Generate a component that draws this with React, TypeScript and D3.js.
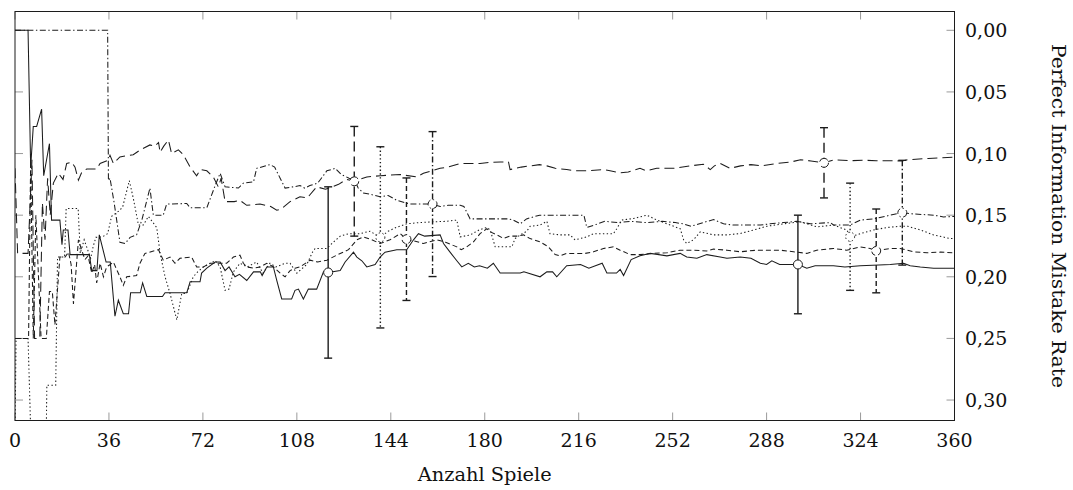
import * as d3 from "d3";

// ── Data: [game, mistake rate] ─────────────────────────────
const solidSeries: [number, number][] = [
  [0, 0], [5, 0], [6, 0.111], [7, 0.078], [8.3, 0.078], [10.2, 0.064], [11, 0.118], [13.2, 0.092],
  [14, 0.154], [17.2, 0.154], [18, 0.174], [18.5, 0.162], [20.3, 0.162], [21.1, 0.182], [28.5, 0.182],
  [29.4, 0.195], [31.4, 0.195], [32.3, 0.166], [34.9, 0.188], [36.5, 0.188], [38.3, 0.232], [39.6, 0.219],
  [41.5, 0.23], [43.5, 0.23], [44.3, 0.213], [48, 0.213], [48.9, 0.205], [50.5, 0.216], [56.5, 0.216],
  [57.5, 0.213], [65.8, 0.213], [67.1, 0.204], [70.9, 0.204], [71.5, 0.197], [73.5, 0.193], [76.7, 0.188],
  [78.6, 0.188], [80.5, 0.195], [82, 0.192], [84.3, 0.2], [86, 0.198], [88.8, 0.203], [91.4, 0.196],
  [94, 0.196], [94.7, 0.199], [96.5, 0.192], [99, 0.192], [100.3, 0.203], [102.2, 0.218], [106, 0.218],
  [107.3, 0.211], [108.6, 0.21], [110.5, 0.218], [112.4, 0.21], [115.6, 0.21], [118.2, 0.196], [120, 0.1965],
  [124.6, 0.195], [126.5, 0.188], [129.7, 0.18], [131, 0.184], [132.9, 0.187], [134.8, 0.192], [138, 0.19],
  [139.9, 0.184], [141.8, 0.18], [146.3, 0.178], [150.1, 0.178], [152.7, 0.17], [154.6, 0.165], [157, 0.167],
  [162.9, 0.166], [164.2, 0.173], [166.7, 0.18], [169.3, 0.187], [171.2, 0.192], [173.7, 0.189], [176, 0.192],
  [178, 0.191], [181, 0.193], [183.3, 0.189], [185.9, 0.197], [193.6, 0.197], [195, 0.196], [201.2, 0.2],
  [203.8, 0.196], [206, 0.196], [207.6, 0.2], [211.4, 0.191], [216.7, 0.19], [219.9, 0.193], [225, 0.189],
  [226.8, 0.197], [230.5, 0.197], [231.9, 0.194], [233.2, 0.199], [236.1, 0.186], [239.5, 0.183],
  [243.4, 0.181], [249.8, 0.183], [254.9, 0.181], [257.4, 0.184], [261.3, 0.185], [265.1, 0.182],
  [270.2, 0.184], [272.8, 0.185], [277.9, 0.184], [282, 0.185], [285.6, 0.189], [288, 0.19], [290, 0.187],
  [293, 0.19], [300, 0.19], [303.4, 0.193], [306.6, 0.191], [313.6, 0.191], [318, 0.192], [323.9, 0.191],
  [331, 0.1905], [335.4, 0.19], [340.5, 0.189], [343, 0.191], [346.9, 0.192], [352, 0.193], [360, 0.193],
];

const longDashSeries: [number, number][] = [
  [0, 0.112], [1, 0.181], [5, 0.181], [6.5, 0.105], [7.5, 0.25], [9.5, 0.25], [10.5, 0.14], [11.5, 0.17],
  [12.5, 0.12], [13.5, 0.15], [14.7, 0.124], [16.6, 0.116], [18.4, 0.121], [19.8, 0.108], [21.7, 0.107],
  [23, 0.111], [24.3, 0.1216], [25.6, 0.115], [27.5, 0.1125], [31.3, 0.1125], [32.6, 0.108], [35.8, 0.1054],
  [36.4, 0.1014], [37.7, 0.108], [40.2, 0.1027], [45.3, 0.101], [48, 0.097], [51.7, 0.093], [53.5, 0.094],
  [55, 0.091], [55.6, 0.099], [57, 0.094], [58.8, 0.089], [60, 0.1], [62.6, 0.097], [64.5, 0.101],
  [67.1, 0.111], [69.6, 0.118], [71, 0.113], [73.5, 0.114], [76, 0.119], [77.9, 0.127], [79, 0.12],
  [80.5, 0.139], [84, 0.139], [86.2, 0.138], [88.8, 0.142], [93.9, 0.141], [98, 0.143], [100.3, 0.146],
  [102, 0.145], [105.4, 0.139], [109.2, 0.135], [112, 0.136], [115.6, 0.127], [119, 0.129], [124, 0.125],
  [127, 0.121], [130, 0.1225], [134.8, 0.119], [140, 0.118], [147.6, 0.117], [153.9, 0.119], [156.5, 0.116],
  [162.9, 0.112], [166, 0.111], [170.6, 0.108], [178.2, 0.108], [183, 0.107], [185.9, 0.1068], [189.1, 0.1068],
  [189.7, 0.113], [194, 0.111], [197.4, 0.11], [201, 0.109], [203.8, 0.11], [207, 0.112], [211.4, 0.113],
  [215, 0.114], [219.1, 0.114], [225.5, 0.113], [228, 0.114], [231.9, 0.1157], [235, 0.115], [239.5, 0.112],
  [242, 0.114], [245.9, 0.112], [252.3, 0.112], [258.7, 0.11], [263.8, 0.1087], [266.4, 0.113], [268, 0.11],
  [270.2, 0.108], [274, 0.112], [278, 0.11], [282, 0.109], [286, 0.11], [292, 0.108], [297, 0.107],
  [301, 0.105], [305, 0.106], [310, 0.1075], [314, 0.105], [320, 0.1058], [325, 0.1054], [330, 0.1058],
  [335, 0.1058], [340, 0.106], [342, 0.105], [350, 0.104], [355, 0.1035], [360, 0.103],
];

const dottedSeries: [number, number][] = [
  [0, 0.33], [0.4, 0.25], [5, 0.25], [6.5, 0.36], [11.8, 0.36], [12.2, 0.288], [15.6, 0.288], [16.3, 0.184],
  [19, 0.184], [19.6, 0.1446], [24.2, 0.1446], [25, 0.181], [26.5, 0.17], [27.5, 0.176], [29, 0.185],
  [30, 0.175], [31, 0.168], [33.5, 0.1676], [35.5, 0.165], [37, 0.151], [40.2, 0.146], [41.3, 0.143],
  [43.8, 0.122], [45.3, 0.136], [47.3, 0.158], [49.2, 0.158], [51.1, 0.151], [54.3, 0.16], [55.6, 0.181],
  [57.5, 0.2], [59.4, 0.2135], [62, 0.235], [63.9, 0.2135], [65.8, 0.2135], [68.3, 0.2], [70, 0.196],
  [72.2, 0.192], [76.7, 0.187], [78.6, 0.192], [80.5, 0.211], [82, 0.21], [83.7, 0.196], [86.2, 0.189],
  [89, 0.192], [92.6, 0.188], [95, 0.197], [97.7, 0.189], [100, 0.192], [103.5, 0.189], [105.4, 0.189],
  [108, 0.197], [111.8, 0.19], [114, 0.18], [115, 0.177], [119.5, 0.177], [121.4, 0.173], [124.6, 0.167],
  [128, 0.165], [132.2, 0.165], [136, 0.163], [140, 0.168], [143, 0.163], [146, 0.16], [150.1, 0.157],
  [155, 0.156], [160.4, 0.1554], [165, 0.155], [169.3, 0.154], [170.6, 0.1676], [174.4, 0.166],
  [178.2, 0.1616], [180.8, 0.16], [182.1, 0.162], [184, 0.1757], [190.4, 0.1757], [191.6, 0.169],
  [193.6, 0.166], [196.1, 0.163], [197.4, 0.159], [201.2, 0.158], [203.8, 0.155], [205, 0.165],
  [208.9, 0.166], [212.7, 0.166], [214.6, 0.17], [219.1, 0.1676], [221.7, 0.165], [229.3, 0.165],
  [230.6, 0.161], [232.5, 0.154], [237, 0.1527], [242.1, 0.15], [246, 0.154], [249.8, 0.157], [254.9, 0.161],
  [256.2, 0.17], [257.4, 0.173], [260, 0.17], [262.6, 0.1635], [267.7, 0.166], [272.8, 0.166],
  [277.9, 0.1649], [283, 0.162], [288.1, 0.159], [294.5, 0.157], [300.9, 0.1554], [307.3, 0.1595],
  [313.6, 0.158], [318.7, 0.162], [320.3, 0.1675], [323.9, 0.165], [329, 0.162], [334.1, 0.16],
  [339.2, 0.159], [342, 0.159], [346.9, 0.162], [352, 0.166], [358.4, 0.169], [360, 0.169],
];

const shortDashSeries: [number, number][] = [
  [0, 0.25], [5.2, 0.25], [6, 0.106], [7, 0.25], [8, 0.15], [9, 0.2], [10, 0.25], [12, 0.25], [13.2, 0.212],
  [14.3, 0.212], [15.3, 0.239], [17.2, 0.184], [19.2, 0.184], [20.5, 0.18], [21.5, 0.19], [22.4, 0.222],
  [24.3, 0.17], [25.5, 0.178], [26.8, 0.186], [28, 0.183], [29.4, 0.197], [30.5, 0.19], [31.3, 0.205],
  [32.6, 0.189], [33.9, 0.2], [35.1, 0.192], [36.5, 0.19], [37.7, 0.188], [40.2, 0.2], [41.5, 0.207],
  [42.8, 0.2], [46.6, 0.199], [47.9, 0.189], [49.8, 0.181], [55, 0.178], [56.8, 0.1865], [59.4, 0.184],
  [61.3, 0.189], [63.2, 0.185], [67.7, 0.184], [69.6, 0.192], [72.2, 0.192], [74.7, 0.189], [81.1, 0.189],
  [83.7, 0.184], [86.2, 0.1824], [87.5, 0.189], [88.8, 0.192], [91.4, 0.193], [94, 0.192], [96.5, 0.189],
  [99.1, 0.192], [101.6, 0.197], [103.5, 0.2], [105.4, 0.195], [107.3, 0.193], [109.2, 0.192],
  [113.1, 0.1865], [116, 0.188], [119.5, 0.1865], [123.3, 0.1824], [127.8, 0.178], [131, 0.17],
  [133.5, 0.1676], [136.7, 0.17], [139.9, 0.173], [143.7, 0.17], [147.6, 0.165], [150, 0.1695], [153, 0.171],
  [156.5, 0.173], [161.6, 0.17], [165, 0.172], [169.3, 0.1757], [171, 0.178], [173.1, 0.1757],
  [175.7, 0.1716], [178.2, 0.165], [180.8, 0.161], [182.1, 0.1635], [184.7, 0.166], [187.2, 0.1689],
  [189.7, 0.167], [192.3, 0.167], [194.9, 0.166], [197.4, 0.169], [201.2, 0.1716], [204.4, 0.1757],
  [207, 0.182], [208.9, 0.183], [211.4, 0.181], [215.3, 0.1811], [218.5, 0.181], [221.7, 0.1797],
  [225.5, 0.177], [229.3, 0.1757], [231.9, 0.1784], [235.7, 0.182], [239.5, 0.182], [244.6, 0.181],
  [249.8, 0.1805], [254.9, 0.1784], [260, 0.1784], [265.1, 0.179], [267.7, 0.1775], [272.8, 0.1784],
  [277.9, 0.1797], [284.3, 0.1784], [293.2, 0.1784], [298.3, 0.1797], [303.4, 0.181], [307.2, 0.1784],
  [313.6, 0.177], [318.7, 0.1784], [323.9, 0.1757], [327.7, 0.177], [330, 0.179], [335.4, 0.177],
  [339.2, 0.177], [344.3, 0.1797], [349.5, 0.1805], [354.6, 0.18], [360, 0.1805],
];

const dashDotSeries: [number, number][] = [
  [0, 0], [35.5, 0], [35.8, 0.122], [36.4, 0.12], [38, 0.14], [40.2, 0.172], [42.2, 0.173], [44.1, 0.168],
  [46.6, 0.166], [48.6, 0.154], [51.7, 0.128], [53, 0.15], [56.8, 0.15], [58.1, 0.141], [65.8, 0.1405],
  [67.1, 0.144], [73.5, 0.144], [76.7, 0.126], [78.6, 0.116], [80.5, 0.127], [85.6, 0.128], [87.5, 0.124],
  [91.4, 0.123], [92.6, 0.112], [97.7, 0.109], [99.5, 0.111], [101.6, 0.12], [103.5, 0.128], [106.7, 0.127],
  [109.2, 0.126], [111, 0.128], [113, 0.126], [116, 0.124], [119.5, 0.114], [122.7, 0.112], [125, 0.117],
  [128, 0.12], [130, 0.121], [131.5, 0.128], [133.5, 0.132], [136, 0.133], [139.9, 0.135], [143, 0.134],
  [146.3, 0.138], [151.4, 0.141], [155, 0.141], [160, 0.141], [162.9, 0.143], [166, 0.142], [170.6, 0.142],
  [172, 0.143], [174.4, 0.153], [182, 0.153], [189, 0.153], [191, 0.154], [193.6, 0.157], [196, 0.153],
  [201, 0.15], [205, 0.15], [212, 0.15], [218, 0.15], [219.1, 0.16], [222, 0.158], [226, 0.155],
  [231, 0.156], [236, 0.155], [242, 0.156], [248, 0.155], [253, 0.156], [256, 0.157], [259, 0.159],
  [262.6, 0.1567], [267.7, 0.1535], [271.5, 0.157], [275.3, 0.158], [285.6, 0.158], [289.4, 0.157],
  [294.5, 0.156], [299.6, 0.155], [304.7, 0.157], [312.4, 0.156], [313.6, 0.158], [320, 0.158],
  [323.9, 0.154], [329, 0.153], [335.4, 0.15], [340, 0.148], [344.3, 0.149], [352, 0.15], [355.8, 0.1514],
  [360, 0.151],
];

// error bars: [game, mean, half width]
const solidErr: [number, number, number][] = [[120, 0.1965, 0.0695], [300, 0.19, 0.04]];
const longDashErr: [number, number, number][] = [[130, 0.1225, 0.0445], [310, 0.1075, 0.0285]];
const dottedErr: [number, number, number][] = [[140, 0.168, 0.0735], [320, 0.1675, 0.0435]];
const shortDashErr: [number, number, number][] = [[150, 0.1695, 0.0497], [330, 0.179, 0.034]];
const dashDotErr: [number, number, number][] = [[160, 0.141, 0.0588], [340, 0.148, 0.0425]];

const xTicks = [0, 36, 72, 108, 144, 180, 216, 252, 288, 324, 360];
const yTicks = [0, 0.05, 0.1, 0.15, 0.2, 0.25, 0.3];

const xLabel = "Anzahl Spiele";
const yLabel = "Perfect Information Mistake Rate";

// ── Layout ────────────────────────────────────────────────
const W = 1073;
const H = 490;
const LEFT = 15;
const RIGHT = 954.5;
const TOP = 11.5;
const BOTTOM = 420.5;
const TICK = 8;
const FONT = "'DejaVu Serif', serif";
const FS = 19;
const INK = "#1c1c1c";

const x = d3.scaleLinear().domain([0, 360]).range([LEFT, RIGHT]);
const y = d3.scaleLinear().domain([-0.01526, 0.3166]).range([TOP, BOTTOM]);

const line = d3.line<[number, number]>()
  .x(d => x(d[0]))
  .y(d => y(d[1]));

const fmt = (v: number) => d3.format(".2f")(v).replace(".", ",");

const series = [
  { key: "solid", data: solidSeries, err: solidErr, dash: "none" },
  { key: "long", data: longDashSeries, err: longDashErr, dash: "10,5" },
  { key: "dotted", data: dottedSeries, err: dottedErr, dash: "1.4,2.4" },
  { key: "short", data: shortDashSeries, err: shortDashErr, dash: "5,3" },
  { key: "dashdot", data: dashDotSeries, err: dashDotErr, dash: "6,2.5,1.4,2.5" },
];

export default function App() {
  return (
    <div style={{ position: "fixed", left: 0, top: 0, width: W, height: H, background: "#fff" }}>
      <svg width={W} height={H} style={{ display: "block" }}>
        <defs>
          <clipPath id="plot">
            <rect x={LEFT} y={TOP} width={RIGHT - LEFT} height={BOTTOM - TOP} />
          </clipPath>
        </defs>

        {/* ── ticks (inside, grey) ── */}
        {xTicks.map(t => (
          <g key={"xt" + t} stroke="#9a9a9a" strokeWidth={1}>
            <line x1={x(t)} x2={x(t)} y1={BOTTOM} y2={BOTTOM - TICK} />
            <line x1={x(t)} x2={x(t)} y1={TOP} y2={TOP + TICK} />
          </g>
        ))}
        {yTicks.map(t => (
          <g key={"yt" + t} stroke="#9a9a9a" strokeWidth={1}>
            <line x1={LEFT} x2={LEFT + TICK} y1={y(t)} y2={y(t)} />
            <line x1={RIGHT} x2={RIGHT - TICK} y1={y(t)} y2={y(t)} />
          </g>
        ))}

        {/* ── series ── */}
        <g clipPath="url(#plot)" fill="none" stroke={INK} strokeWidth={1.05}>
          {series.map(s => (
            <path key={s.key} d={line(s.data) ?? ""}
              strokeDasharray={s.dash === "none" ? undefined : s.dash} />
          ))}
        </g>

        {/* ── error bars + markers ── */}
        {series.map(s => s.err.map(([g, m, e]) => (
          <g key={s.key + g} stroke={INK} strokeWidth={1.4}>
            <line x1={x(g)} x2={x(g)} y1={y(m - e)} y2={y(m + e)}
              strokeDasharray={s.dash === "none" ? undefined : s.dash} />
            <line x1={x(g) - 4} x2={x(g) + 4} y1={y(m - e)} y2={y(m - e)} />
            <line x1={x(g) - 4} x2={x(g) + 4} y1={y(m + e)} y2={y(m + e)} />
            <circle cx={x(g)} cy={y(m)} r={4.5} fill="#fff" strokeWidth={1}
              strokeDasharray={s.dash === "none" ? undefined : s.dash} />
          </g>
        )))}

        {/* ── frame ── */}
        <rect x={LEFT} y={TOP} width={RIGHT - LEFT} height={BOTTOM - TOP}
          fill="none" stroke={INK} strokeWidth={1} />

        {/* ── tick labels ── */}
        {xTicks.map(t => (
          <text key={"xl" + t} x={x(t)} y={447} textAnchor="middle"
            fontFamily={FONT} fontSize={FS} fill="#111">{t}</text>
        ))}
        {yTicks.map(t => (
          <text key={"yl" + t} x={965} y={y(t) + 7} textAnchor="start"
            fontFamily={FONT} fontSize={FS} fill="#111">{fmt(t)}</text>
        ))}

        {/* ── axis titles ── */}
        <text x={(LEFT + RIGHT) / 2} y={481} textAnchor="middle"
          fontFamily={FONT} fontSize={FS} fill="#111"
          textLength={134} lengthAdjust="spacingAndGlyphs">{xLabel}</text>
        <text transform={`translate(1052, ${(TOP + BOTTOM) / 2}) rotate(90)`}
          textAnchor="middle" fontFamily={FONT} fontSize={FS} fill="#111"
          textLength={344} lengthAdjust="spacingAndGlyphs">{yLabel}</text>
      </svg>
    </div>
  );
}
